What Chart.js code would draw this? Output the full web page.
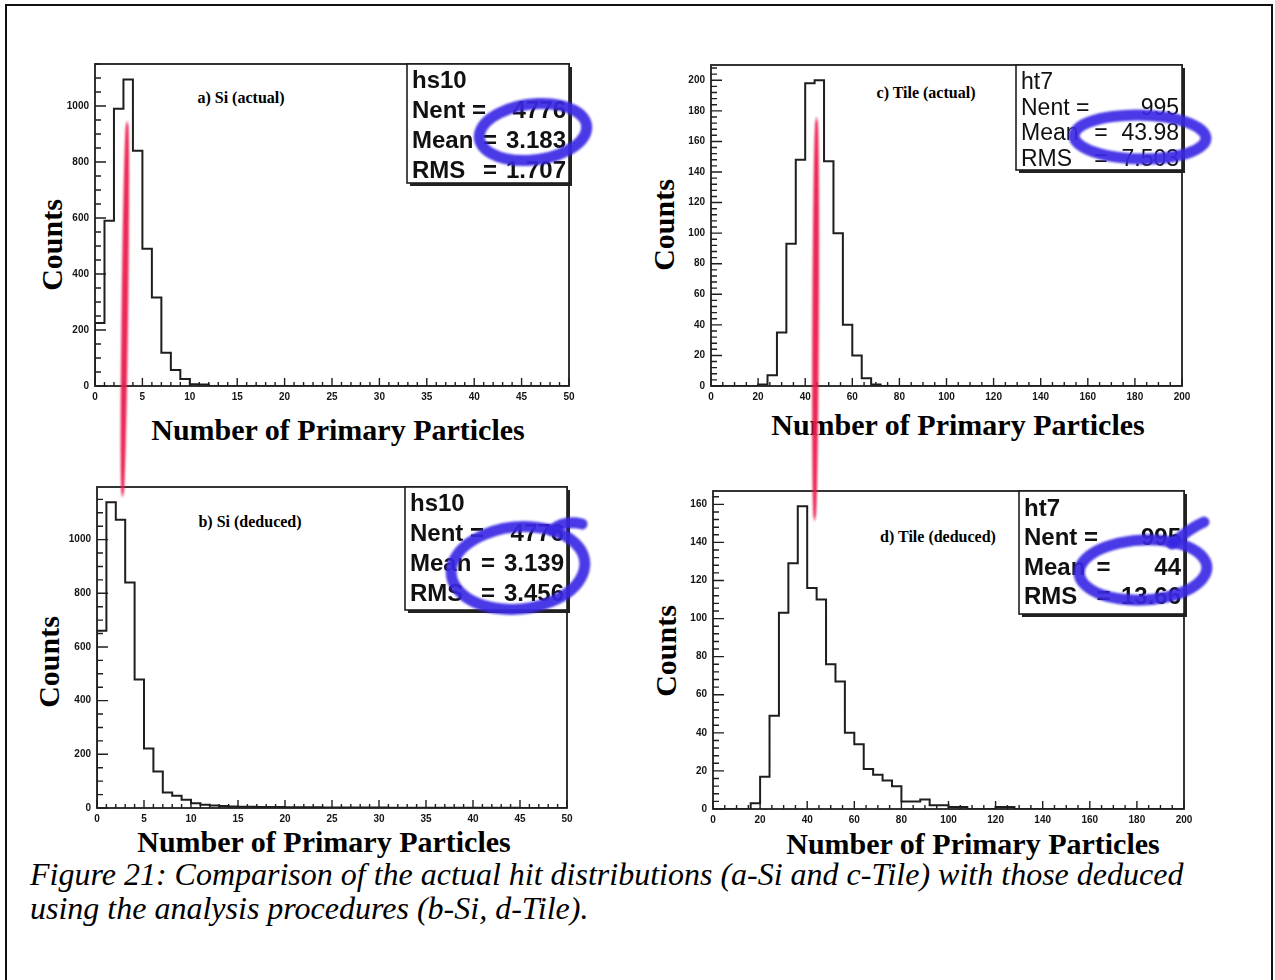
<!DOCTYPE html>
<html>
<head>
<meta charset="utf-8">
<script src="https://cdn.jsdelivr.net/npm/chart.js@4.4.1/dist/chart.umd.min.js"></script>
<style>
  html, body { margin: 0; padding: 0; background: #fff; }
  #page { position: relative; width: 1275px; height: 980px; overflow: hidden; background: #fff; }
  #border { position: absolute; left: 5px; top: 4px; width: 1268px; height: 1000px; border: 2px solid #111; box-sizing: border-box; }
  canvas.hist { position: absolute; filter: blur(0.5px); }
  #marks { position: absolute; left: 0; top: 0; z-index: 5; pointer-events: none; }
  .lbl { position: absolute; font-family: "Liberation Serif", "Times New Roman", serif; font-weight: bold; color: #000; white-space: nowrap; transform: translate(-50%, -50%); line-height: 1; }
  .ytitle { transform: translate(-50%, -50%) rotate(-90deg); }
  #caption { position: absolute; left: 30px; top: 857px; font-family: "Liberation Serif", "Times New Roman", serif; font-style: italic; font-size: 32px; line-height: 34px; color: #000; white-space: nowrap; }
</style>
</head>
<body>
<div id="page">
  <div id="border"></div>
  <div class="lbl" style="left:241px;top:98px;font-size:16px;">a) Si (actual)</div>
  <div class="lbl" style="left:250px;top:522px;font-size:16px;">b) Si (deduced)</div>
  <div class="lbl" style="left:926px;top:93px;font-size:16px;">c) Tile (actual)</div>
  <div class="lbl" style="left:938px;top:537px;font-size:16px;">d) Tile (deduced)</div>
  <div class="lbl ytitle" style="left:52px;top:245px;font-size:30px;">Counts</div>
  <div class="lbl ytitle" style="left:49px;top:662px;font-size:30px;">Counts</div>
  <div class="lbl ytitle" style="left:664px;top:225px;font-size:30px;">Counts</div>
  <div class="lbl ytitle" style="left:666px;top:651px;font-size:30px;">Counts</div>
  <div class="lbl" style="left:338px;top:430px;font-size:30px;">Number of Primary Particles</div>
  <div class="lbl" style="left:958px;top:425px;font-size:30px;">Number of Primary Particles</div>
  <div class="lbl" style="left:324px;top:842px;font-size:30px;">Number of Primary Particles</div>
  <div class="lbl" style="left:973px;top:844px;font-size:30px;">Number of Primary Particles</div>
  <div id="caption">Figure 21: Comparison of the actual hit distributions (a-Si and c-Tile) with those deduced<br>using the analysis procedures (b-Si, d-Tile).</div>
  <canvas id="marks" width="1275" height="980"></canvas>
</div>
<script>
// ---- histogram contents (counts per bin) ----
// Si: 50 bins of width 1 over [0, 50)
const siActual = [225, 590, 990, 1095, 840, 490, 316, 119, 57, 25,
                  6, 5, 0, 0, 0, 0, 0, 0, 0, 0,
                  0, 0, 0, 0, 0, 0, 0, 0, 0, 0,
                  0, 0, 0, 0, 0, 0, 0, 0, 0, 0,
                  0, 0, 0, 0, 0, 0, 0, 0, 0, 0];
const siDeduced = [660, 1139, 1074, 840, 479, 222, 136, 58, 46, 31,
                   18, 12, 9, 7, 6, 5, 5, 4, 4, 4,
                   3, 3, 3, 3, 2, 2, 2, 2, 2, 2,
                   2, 1, 1, 1, 1, 1, 1, 1, 1, 1,
                   1, 1, 1, 1, 1, 0, 0, 0, 0, 0];
// Tile: 50 bins of width 4 over [0, 200)
const tileActual = [0, 0, 0, 0, 0, 1, 7, 35, 93, 148,
                    198, 200, 147, 100, 40, 20, 5, 1, 0, 0,
                    0, 0, 0, 0, 0, 0, 0, 0, 0, 0,
                    0, 0, 0, 0, 0, 0, 0, 0, 0, 0,
                    0, 0, 0, 0, 0, 0, 0, 0, 0, 0];
const tileDeduced = [0, 0, 0, 0, 3, 17, 49, 103, 129, 159,
                     116, 110, 76, 67, 40, 34, 21, 18, 15, 12,
                     4, 4, 5, 2, 2, 1, 1, 0, 0, 0,
                     1, 1, 0, 0, 0, 0, 0, 0, 0, 0,
                     0, 0, 0, 0, 0, 0, 0, 0, 0, 0];

// binning
const siRange = [0, 50];
const siBinWidth = 1;
const tileRange = [0, 200];
const tileBinWidth = 4;

// vertical ranges
const siActualMax = 1150;
const siDeducedMax = 1196;
const tileActualMax = 210;
const tileDeducedMax = 167;

// tick labels
const siXTicks = [0, 5, 10, 15, 20, 25, 30, 35, 40, 45, 50];
const siYTicks = [0, 200, 400, 600, 800, 1000];
const tileXTicks = [0, 20, 40, 60, 80, 100, 120, 140, 160, 180, 200];
const tileActualYTicks = [0, 20, 40, 60, 80, 100, 120, 140, 160, 180, 200];
const tileDeducedYTicks = [0, 20, 40, 60, 80, 100, 120, 140, 160];

// statistics boxes
const statNames = ['hs10', 'hs10', 'ht7', 'ht7'];
const statNent = ['4776', '4776', '995', '995'];
const statMean = [3.183, 3.139, 43.98, 44];
const statMeanText = ['3.183', '3.139', '43.98', '44'];
const statRms = ['1.707', '3.456', '7.503', '13.66'];

// ---- layout of the four pads ----
const PADL = 50, PADT = 10, PADR = 16, PADB = 26;
const panels = [
  { frame: [95, 62, 569, 386], values: siActual, range: siRange, bw: siBinWidth, ymax: siActualMax,
    xTicks: siXTicks, yTicks: siYTicks, xMinor: 1, yMinor: 50,
    stat: { w: 162, h: 119, first: 17, step: 30, size: 24, weight: 'bold' } },
  { frame: [97, 485, 567, 808], values: siDeduced, range: siRange, bw: siBinWidth, ymax: siDeducedMax,
    xTicks: siXTicks, yTicks: siYTicks, xMinor: 1, yMinor: 50,
    stat: { w: 162, h: 123, first: 17, step: 30, size: 24, weight: 'bold' } },
  { frame: [711, 63, 1182, 386], values: tileActual, range: tileRange, bw: tileBinWidth, ymax: tileActualMax,
    xTicks: tileXTicks, yTicks: tileActualYTicks, xMinor: 5, yMinor: 4,
    stat: { w: 166, h: 105, first: 18, step: 25.5, size: 23, weight: '500' } },
  { frame: [713, 489, 1184, 809], values: tileDeduced, range: tileRange, bw: tileBinWidth, ymax: tileDeducedMax,
    xTicks: tileXTicks, yTicks: tileDeducedYTicks, xMinor: 5, yMinor: 4,
    stat: { w: 165, h: 123, first: 18, step: 29.5, size: 24, weight: 'bold' } }
];

const page = document.getElementById('page');
const LINE = '#1e1e1e';

function padPlugin(p, idx) {
  return {
    id: 'rootPad' + idx,
    afterDraw(chart) {
      const ctx = chart.ctx, a = chart.chartArea;
      const xs = chart.scales.x, ys = chart.scales.y;
      ctx.save();
      // axis ticks (major and minor), pointing into the frame
      ctx.strokeStyle = LINE;
      ctx.lineWidth = 1.4;
      ctx.beginPath();
      for (let k = 0; ; k++) {
        const v = xs.min + k * p.xMinor;
        if (v > xs.max + 1e-9) break;
        const px = xs.getPixelForValue(v);
        const major = p.xTicks.some(t => Math.abs(t - v) < 1e-6);
        ctx.moveTo(px, a.bottom);
        ctx.lineTo(px, a.bottom - (major ? 8 : 4));
      }
      for (let k = 0; ; k++) {
        const v = ys.min + k * p.yMinor;
        if (v > ys.max + 1e-9) break;
        const py = ys.getPixelForValue(v);
        const major = p.yTicks.some(t => Math.abs(t - v) < 1e-6);
        ctx.moveTo(a.left, py);
        ctx.lineTo(a.left + (major ? 11 : 6), py);
      }
      ctx.stroke();
      // frame
      ctx.lineWidth = 1.8;
      ctx.strokeRect(a.left, a.top, a.right - a.left, a.bottom - a.top);
      // statistics box with drop shadow
      const s = p.stat;
      const bx = a.right - s.w, by = a.top;
      ctx.fillStyle = '#222';
      ctx.fillRect(bx + 3, by + 3, s.w, s.h);
      ctx.fillStyle = '#fff';
      ctx.fillRect(bx, by, s.w, s.h);
      ctx.lineWidth = 1.6;
      ctx.strokeRect(bx, by, s.w, s.h);
      ctx.fillStyle = '#111';
      ctx.font = s.weight + ' ' + s.size + 'px "Liberation Sans", Arial, sans-serif';
      ctx.textBaseline = 'middle';
      const lx = bx + 5, rx = bx + s.w - 3, mx = bx + s.w / 2 + 2;
      const y0 = by + s.first;
      ctx.textAlign = 'left';
      ctx.fillText(statNames[idx], lx, y0);
      // Nent line
      ctx.fillText('Nent', lx, y0 + s.step);
      ctx.fillText('=', lx + ctx.measureText('Nent ').width, y0 + s.step);
      ctx.textAlign = 'right';
      ctx.fillText(statNent[idx], rx, y0 + s.step);
      // Mean and RMS lines
      ctx.textAlign = 'left';
      ctx.fillText('Mean', lx, y0 + 2 * s.step);
      ctx.fillText('RMS', lx, y0 + 3 * s.step);
      ctx.textAlign = 'center';
      ctx.fillText('=', mx, y0 + 2 * s.step);
      ctx.fillText('=', mx, y0 + 3 * s.step);
      ctx.textAlign = 'right';
      ctx.fillText(statMeanText[idx], rx, y0 + 2 * s.step);
      ctx.fillText(statRms[idx], rx, y0 + 3 * s.step);
      ctx.restore();
    }
  };
}

function makePanel(p, idx) {
  const cv = document.createElement('canvas');
  const w = p.frame[2] - p.frame[0] + PADL + PADR;
  const h = p.frame[3] - p.frame[1] + PADT + PADB;
  cv.width = w; cv.height = h;
  cv.className = 'hist';
  cv.style.left = (p.frame[0] - PADL) + 'px';
  cv.style.top = (p.frame[1] - PADT) + 'px';
  cv.style.width = w + 'px';
  cv.style.height = h + 'px';
  page.insertBefore(cv, document.getElementById('marks'));

  // outline of the histogram: a stepped line through the bin edges,
  // each bin content held from its low edge to its high edge
  const lo = p.range[0];
  const n = p.values.length;
  const pts = [{ x: lo, y: 0 }];
  p.values.forEach((v, i) => pts.push({ x: lo + i * p.bw, y: v }));
  pts.push({ x: lo + n * p.bw, y: p.values[n - 1] });
  pts.push({ x: lo + n * p.bw, y: 0 });

  const tickFont = { family: '"Liberation Sans", Arial, sans-serif', size: 10, weight: 'bold' };
  const chart = new Chart(cv, {
    type: 'line',
    data: { datasets: [{ data: pts, stepped: 'before', borderColor: LINE, borderWidth: 2,
                         pointRadius: 0, fill: false, tension: 0 }] },
    options: {
      responsive: false, animation: false, devicePixelRatio: 1,
      layout: { padding: { left: 0, top: PADT, right: PADR, bottom: 0 } },
      plugins: { legend: { display: false }, tooltip: { enabled: false }, title: { display: false } },
      scales: {
        x: {
          type: 'linear', min: p.range[0], max: p.range[1],
          afterBuildTicks: s => { s.ticks = p.xTicks.map(v => ({ value: v })); },
          afterFit: s => { s.height = PADB; },
          grid: { display: false, drawTicks: false }, border: { display: false },
          ticks: { padding: 5, maxRotation: 0, autoSkip: false, font: tickFont, color: '#151515',
                   callback: v => String(v) }
        },
        y: {
          type: 'linear', min: 0, max: p.ymax,
          afterBuildTicks: s => { s.ticks = p.yTicks.map(v => ({ value: v })); },
          afterFit: s => { s.width = PADL; },
          grid: { display: false, drawTicks: false }, border: { display: false },
          ticks: { padding: 6, autoSkip: false, font: tickFont, color: '#151515',
                   callback: v => String(v) }
        }
      }
    },
    plugins: [padPlugin(p, idx)]
  });
  chart.$left = p.frame[0] - PADL;
  chart.$top = p.frame[1] - PADT;
  return chart;
}

const charts = panels.map(makePanel);

// ---- hand-drawn markings: mean connectors and highlighted means ----
const mk = document.getElementById('marks').getContext('2d');

function meanX(i) {
  return charts[i].$left + charts[i].scales.x.getPixelForValue(statMean[i]);
}

function taper(ctx, x1, y1, x2, y2, maxW) {
  const n = 60, dx = x2 - x1, dy = y2 - y1, L = Math.hypot(dx, dy);
  const nx = -dy / L, ny = dx / L;
  const left = [], right = [];
  for (let i = 0; i <= n; i++) {
    const t = i / n;
    const w = maxW * Math.pow(Math.sin(Math.PI * t), 0.3) / 2;
    const px = x1 + dx * t, py = y1 + dy * t;
    left.push([px + nx * w, py + ny * w]);
    right.push([px - nx * w, py - ny * w]);
  }
  ctx.beginPath();
  ctx.moveTo(left[0][0], left[0][1]);
  left.forEach(q => ctx.lineTo(q[0], q[1]));
  right.reverse().forEach(q => ctx.lineTo(q[0], q[1]));
  ctx.closePath();
  ctx.fill();
}

mk.save();
mk.filter = 'blur(0.8px)';
mk.fillStyle = 'rgba(234, 28, 78, 0.95)';
taper(mk, meanX(0) + 2, 120, meanX(1) - 4, 498, 6.5);
taper(mk, meanX(2) + 2, 116, meanX(3) - 2, 522, 6.5);

mk.strokeStyle = 'rgba(58, 40, 228, 0.92)';
mk.lineWidth = 11;
mk.lineCap = 'round';
mk.lineJoin = 'round';
function loop(cx, cy, rx, ry, rot, a0, sweep) {
  mk.beginPath();
  mk.ellipse(cx, cy, rx, ry, rot, a0, a0 + sweep);
  mk.stroke();
}
// a) around the mean value
loop(533, 132, 54, 28, -0.12, -2.2, Math.PI * 2 + 0.5);
// c)
loop(1140, 137, 66, 22, 0.02, -2.0, Math.PI * 2 + 0.45);
// b)
loop(518, 568, 67, 41, -0.1, -1.25, Math.PI * 2 + 0.1);
mk.beginPath(); mk.moveTo(552, 530); mk.quadraticCurveTo(565, 520, 582, 524); mk.stroke();
// d)
loop(1143, 570, 64, 30, -0.05, -1.15, Math.PI * 2 + 0.05);
mk.beginPath(); mk.moveTo(1172, 544); mk.quadraticCurveTo(1190, 528, 1204, 522); mk.stroke();
mk.restore();
</script>
</body>
</html>
